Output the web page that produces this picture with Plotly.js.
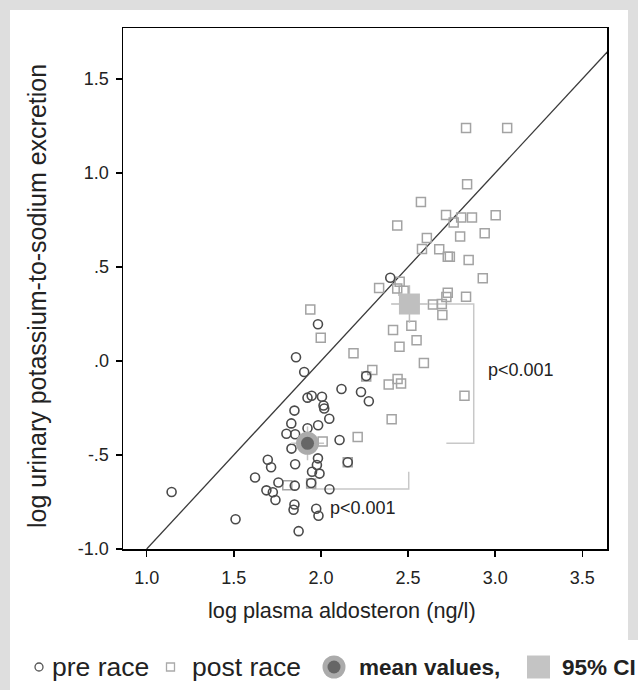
<!DOCTYPE html>
<html><head><meta charset="utf-8">
<script src="https://cdn.plot.ly/plotly-3.0.1.min.js"></script>
<style>html,body{margin:0;padding:0;background:#fff;}#chart{width:638px;height:690px;}</style>
</head><body><div id="chart"></div>
<script>
// ---- data ----
const preX = [2.398,1.983,1.857,1.904,2.118,2.230,2.275,1.923,1.947,2.006,2.015,2.019,1.848,2.048,1.830,1.984,1.802,1.852,1.923,2.107,1.831,1.983,1.695,1.714,1.852,1.977,2.154,1.949,1.992,1.622,1.756,1.850,1.944,2.049,1.687,1.724,1.739,1.143,1.510,1.848,1.843,1.973,1.986,1.872,2.260];
const preY = [0.443,0.195,0.020,-0.059,-0.149,-0.165,-0.214,-0.195,-0.185,-0.190,-0.237,-0.253,-0.264,-0.307,-0.332,-0.342,-0.387,-0.390,-0.358,-0.420,-0.466,-0.518,-0.525,-0.565,-0.549,-0.553,-0.539,-0.589,-0.599,-0.620,-0.646,-0.663,-0.649,-0.682,-0.688,-0.698,-0.739,-0.697,-0.842,-0.763,-0.791,-0.786,-0.823,-0.905,-0.080];
const postX = [2.833,3.069,2.839,2.574,2.438,2.718,2.762,2.805,2.867,3.003,2.608,2.799,2.940,2.580,2.679,2.728,2.740,2.848,2.929,2.334,2.452,2.438,2.475,2.728,2.720,2.833,2.643,2.694,2.697,2.519,2.414,2.549,2.451,2.591,2.187,2.295,2.260,2.389,2.440,2.460,2.824,2.406,2.211,2.154,1.939,1.999,2.010,1.807,1.944];
const postY = [1.239,1.239,0.940,0.846,0.720,0.777,0.736,0.763,0.763,0.775,0.654,0.662,0.679,0.596,0.594,0.554,0.554,0.537,0.440,0.388,0.422,0.385,0.374,0.363,0.340,0.341,0.301,0.303,0.245,0.188,0.165,0.110,0.076,-0.011,0.041,-0.048,-0.082,-0.125,-0.096,-0.120,-0.185,-0.310,-0.404,-0.539,0.274,0.124,-0.428,-0.661,-0.651];
const meanPreX = [1.923], meanPreY = [-0.438], ciPreX = [0.095], ciPreY = [0.09];
const meanPostX = [2.508], meanPostY = [0.303], ciPostX = [0.105], ciPostY = [0.10];
const fitX = [1.0, 3.65], fitY = [-1.0, 1.65];
const bracketPostX = [2.615, 2.877, 2.877, 2.72], bracketPostY = [0.303, 0.303, -0.437, -0.437];
const bracketPreX = [1.95, 2.504, 2.504], bracketPreY = [-0.681, -0.681, -0.589];
const pLabels = ["p<0.001", "p<0.001"], pLabelX = [3.15, 2.243], pLabelY = [-0.05, -0.782];
const xTicks = [1.0,1.5,2.0,2.5,3.0,3.5], xTickText = ["1.0","1.5","2.0","2.5","3.0","3.5"];
const yTicks = [1.5,1.0,0.5,0.0,-0.5,-1.0], yTickText = ["1.5","1.0",".5",".0","-.5","-1.0"];
const xTitle = "log plasma aldosteron (ng/l)";
const yTitle = "log urinary potassium-to-sodium excretion";
const legendLabels = ["pre race","post race","mean values,","95% CI"];

// ---- layout geometry ----
const W=638,H=690, PL=123, PR=607, PT=28, PB=549;
const px = v => (v-PL)/(PR-PL);
const py = v => (PB-v)/(PB-PT);
const FONT = "Liberation Sans, Arial, Helvetica, sans-serif";

const traces = [
  {x:fitX,y:fitY,mode:"lines",line:{color:"#3a3a3a",width:1.3},hoverinfo:"skip"},
  {x:bracketPostX,y:bracketPostY,mode:"lines",line:{color:"#c8c8c8",width:1.5},hoverinfo:"skip"},
  {x:bracketPreX,y:bracketPreY,mode:"lines",line:{color:"#c8c8c8",width:1.5},hoverinfo:"skip"},
  {x:postX,y:postY,mode:"markers",name:legendLabels[1],marker:{symbol:"square-open",size:9,color:"#a3a3a3",line:{width:1.5}}},
  {x:preX,y:preY,mode:"markers",name:legendLabels[0],marker:{symbol:"circle-open",size:9,color:"#4a4a4a",line:{width:1.6}}},
  {x:meanPostX,y:meanPostY,mode:"markers",marker:{symbol:"square",size:21,color:"#bfbfbf"},
   error_x:{type:"data",array:ciPostX,color:"#bdbdbd",thickness:1.5,width:0},
   error_y:{type:"data",array:ciPostY,color:"#bdbdbd",thickness:1.5,width:0}},
  {x:meanPreX,y:meanPreY,mode:"markers",marker:{symbol:"circle",size:23,color:"#ababab"},
   error_x:{type:"data",array:ciPreX,color:"#c4c4c4",thickness:1.5,width:0},
   error_y:{type:"data",array:ciPreY,color:"#c4c4c4",thickness:1.5,width:0}},
  {x:meanPreX,y:meanPreY,mode:"markers",marker:{symbol:"circle",size:13,color:"#666666"}}
];

const ann = [];
for(let i=0;i<pLabels.length;i++){
  ann.push({x:pLabelX[i],y:pLabelY[i],xref:"x",yref:"y",text:pLabels[i],showarrow:false,
    font:{family:FONT,size:18,color:"#222"},xanchor:"center",yanchor:"middle"});
}
ann.push({x:px(342),y:py(610),xref:"paper",yref:"paper",text:xTitle,showarrow:false,
  font:{family:FONT,size:21.7,color:"#222"},xanchor:"center",yanchor:"middle"});
ann.push({x:px(37),y:py(296),xref:"paper",yref:"paper",text:yTitle,showarrow:false,textangle:-90,
  font:{family:FONT,size:25,color:"#222"},xanchor:"center",yanchor:"middle"});
// legend row
const LY = 667;
const legText = [[legendLabels[0],50,false,26.5],[legendLabels[1],190,false,26.5],[legendLabels[2],357,true,22.5],[legendLabels[3],560,true,22.5]];
legText.forEach(([t,x,b,s])=>ann.push({x:px(x),y:py(LY),xref:"paper",yref:"paper",text:b?"<b>"+t+"</b>":t,
  showarrow:false,xanchor:"left",yanchor:"middle",font:{family:FONT,size:s,color:"#222"}}));

const shapes = [
  // grey frame
  {type:"rect",xref:"paper",yref:"paper",x0:px(0),x1:px(10),y0:py(0),y1:py(690),fillcolor:"#dedede",line:{width:0},layer:"below"},
  {type:"rect",xref:"paper",yref:"paper",x0:px(0),x1:px(638),y0:py(0),y1:py(10),fillcolor:"#dedede",line:{width:0},layer:"below"},
  {type:"rect",xref:"paper",yref:"paper",x0:px(628),x1:px(638),y0:py(0),y1:py(640),fillcolor:"#dedede",line:{width:0},layer:"below"},
  // legend symbols
  {type:"circle",xref:"paper",yref:"paper",x0:px(35),x1:px(43),y0:py(663),y1:py(671),line:{color:"#555",width:1.3}},
  {type:"rect",xref:"paper",yref:"paper",x0:px(166.5),x1:px(174.5),y0:py(663),y1:py(671),line:{color:"#aaa",width:1.3}},
  {type:"circle",xref:"paper",yref:"paper",x0:px(322.5),x1:px(345.5),y0:py(655.5),y1:py(678.5),fillcolor:"#ababab",line:{width:0}},
  {type:"circle",xref:"paper",yref:"paper",x0:px(327.5),x1:px(340.5),y0:py(660.5),y1:py(673.5),fillcolor:"#666",line:{width:0}},
  {type:"rect",xref:"paper",yref:"paper",x0:px(527),x1:px(550),y0:py(655.5),y1:py(678.5),fillcolor:"#c4c4c4",line:{width:0}}
];

const axisCommon = {showgrid:false,zeroline:false,showline:true,linecolor:"#000",linewidth:1.5,mirror:true,
  ticks:"outside",ticklen:6,tickwidth:1.5,tickcolor:"#000",tickfont:{family:FONT,size:18,color:"#222"}};
const layout = {
  width:W,height:H,margin:{l:PL,r:W-PR,t:PT,b:H-PB,pad:0},
  paper_bgcolor:"#fff",plot_bgcolor:"#fff",showlegend:false,
  xaxis:Object.assign({},axisCommon,{range:[0.864,3.642],tickmode:"array",tickvals:xTicks,ticktext:xTickText,ticklabelstandoff:6}),
  yaxis:Object.assign({},axisCommon,{range:[-1.0,1.771],tickmode:"array",tickvals:yTicks,ticktext:yTickText,ticklabelstandoff:3}),
  annotations:ann,shapes:shapes
};
Plotly.newPlot("chart",traces,layout,{staticPlot:true,displayModeBar:false});
</script></body></html>
